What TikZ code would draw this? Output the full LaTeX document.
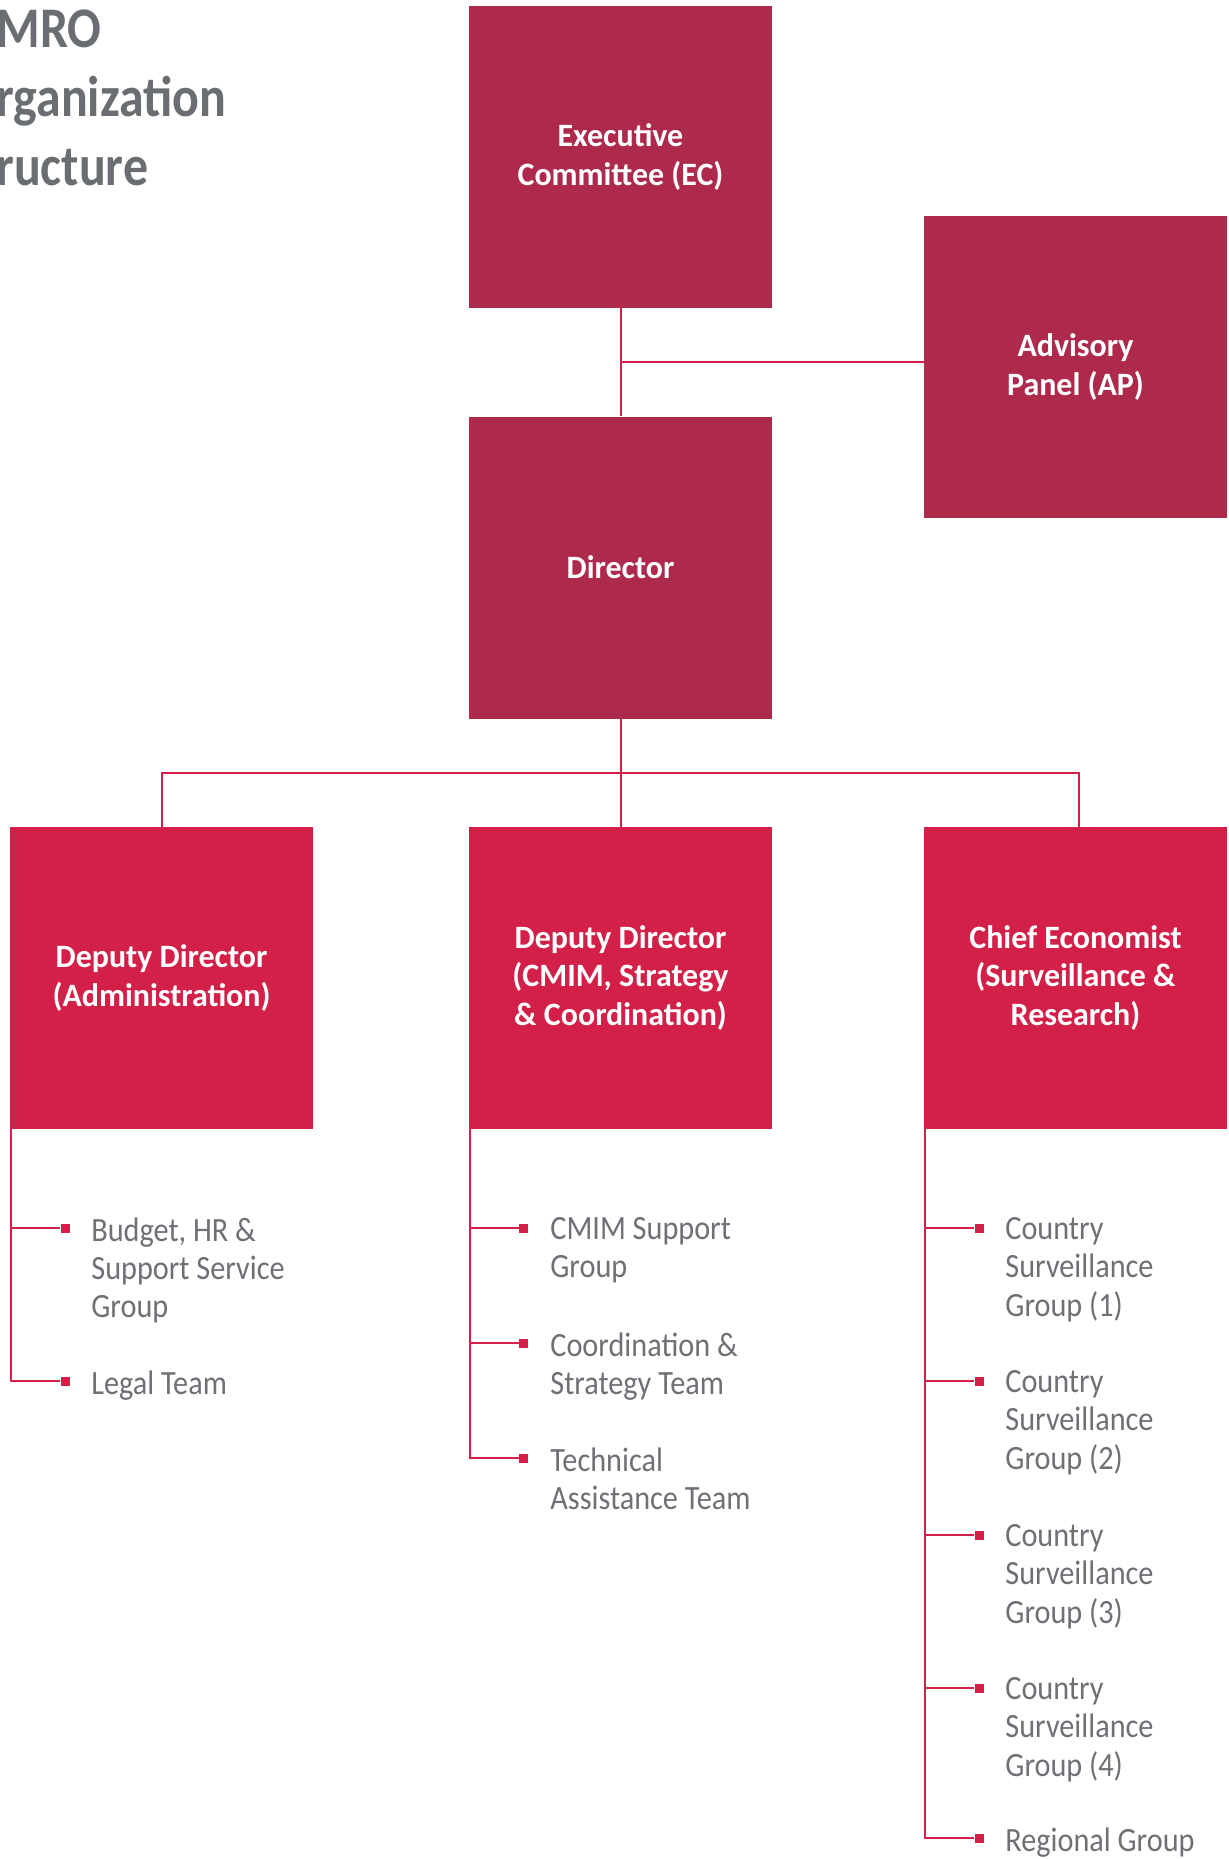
\documentclass[tikz,border=0pt]{standalone}
\usepackage{fontspec}
\setmainfont{Carlito}
\newfontfamily\labelfont[FakeStretch=0.89]{Carlito}
\newfontfamily\boxfont[FakeStretch=0.98]{Carlito}
\newfontfamily\titlefont[FakeStretch=0.87]{Carlito}
\definecolor{amrodark}{HTML}{AE2A4C}
\definecolor{amrored}{HTML}{D22048}
\definecolor{itemgray}{HTML}{6D7075}
\definecolor{titlegray}{HTML}{6A6E72}

\begin{document}
\begin{tikzpicture}[x=0.5pt, y=-0.5pt,
    topbox/.style={rectangle, fill=amrodark, minimum width=151.5pt, minimum height=151pt, inner sep=0pt,
        text=white, align=center, font=\boxfont\bfseries\fontsize{16.3}{19.2}\selectfont},
    depbox/.style={topbox, fill=amrored},
    link/.style={draw=amrored, line width=1pt},
    bullet/.style={rectangle, fill=amrored, minimum size=4.5pt, inner sep=0pt},
    item/.style={anchor=north west, inner sep=0pt, align=left, text=itemgray,
        font=\labelfont\fontsize{17}{19.2}\selectfont},
    title/.style={anchor=north west, inner sep=0pt, align=left, text=titlegray,
        font=\titlefont\bfseries\fontsize{28.7}{34.5}\selectfont}]

    \useasboundingbox (0,0) rectangle (1228,1859);
    \clip (0,0) rectangle (1228,1859);

    % title
    \node[title] (ttl) at (-4,9) {MRO\\rganization\\ructure};

    % EC, AP and Director
    \node[topbox] (ec) at (620.5,157) {Executive\\Committee (EC)};
    \node[topbox] (ap) at (1075.5,367) {Advisory\\Panel (AP)};
    \node[topbox] (dir) at (620.5,567.5) {Director};
    \coordinate (apjoin) at (620.5,362);
    \draw[link] (ec) -- (dir);
    \draw[link] (apjoin) -- (apjoin -| ap.west);

    % deputies
    \node[depbox] (dd1) at (161.5,978) {Deputy Director\\(Administration)};
    \node[depbox] (dd2) at (620.5,978) {Deputy Director\\(CMIM, Strategy\\\& Coordination)};
    \node[depbox] (dd3) at (1075.5,978) {Chief Economist\\(Surveillance \&\\Research)};
    \coordinate (fork) at (620.5,773);
    \draw[link] (dir) -- (dd2);
    \draw[link] (dd1.north) |- (fork) -| ([xshift=1.75pt]dd3.north);

    % Administration
    \foreach \i/\yy/\txt in {1/1228/{Budget, HR \&\\Support Service\\Group}, 2/1381/{Legal Team}} {
        \node[bullet] (a\i) at (65,\yy) {};
        \node[item] (ta\i) at (91,\yy-11) {\txt};
        \draw[link] ([xshift=0.75pt]dd1.south west) |- (a\i);
    }

    % CMIM, Strategy & Coordination
    \foreach \i/\yy/\txt in {1/1228/{CMIM Support\\Group}, 2/1343/{Coordination \&\\Strategy Team},
            3/1458/{Technical\\Assistance Team}} {
        \node[bullet] (c\i) at (523.5,\yy) {};
        \node[item] (tc\i) at (550,\yy-11) {\txt};
        \draw[link] ([xshift=0.75pt]dd2.south west) |- (c\i);
    }

    % Surveillance & Research
    \foreach \i/\yy/\txt in {1/1228/{Country\\Surveillance\\Group (1)}, 2/1381/{Country\\Surveillance\\Group (2)},
            3/1535/{Country\\Surveillance\\Group (3)}, 4/1688/{Country\\Surveillance\\Group (4)},
            5/1838/{Regional Group}} {
        \node[bullet] (s\i) at (979,\yy) {};
        \node[item] (ts\i) at (1005,\yy-11) {\txt};
        \draw[link] ([xshift=0.75pt]dd3.south west) |- (s\i);
    }

\end{tikzpicture}
\end{document}
